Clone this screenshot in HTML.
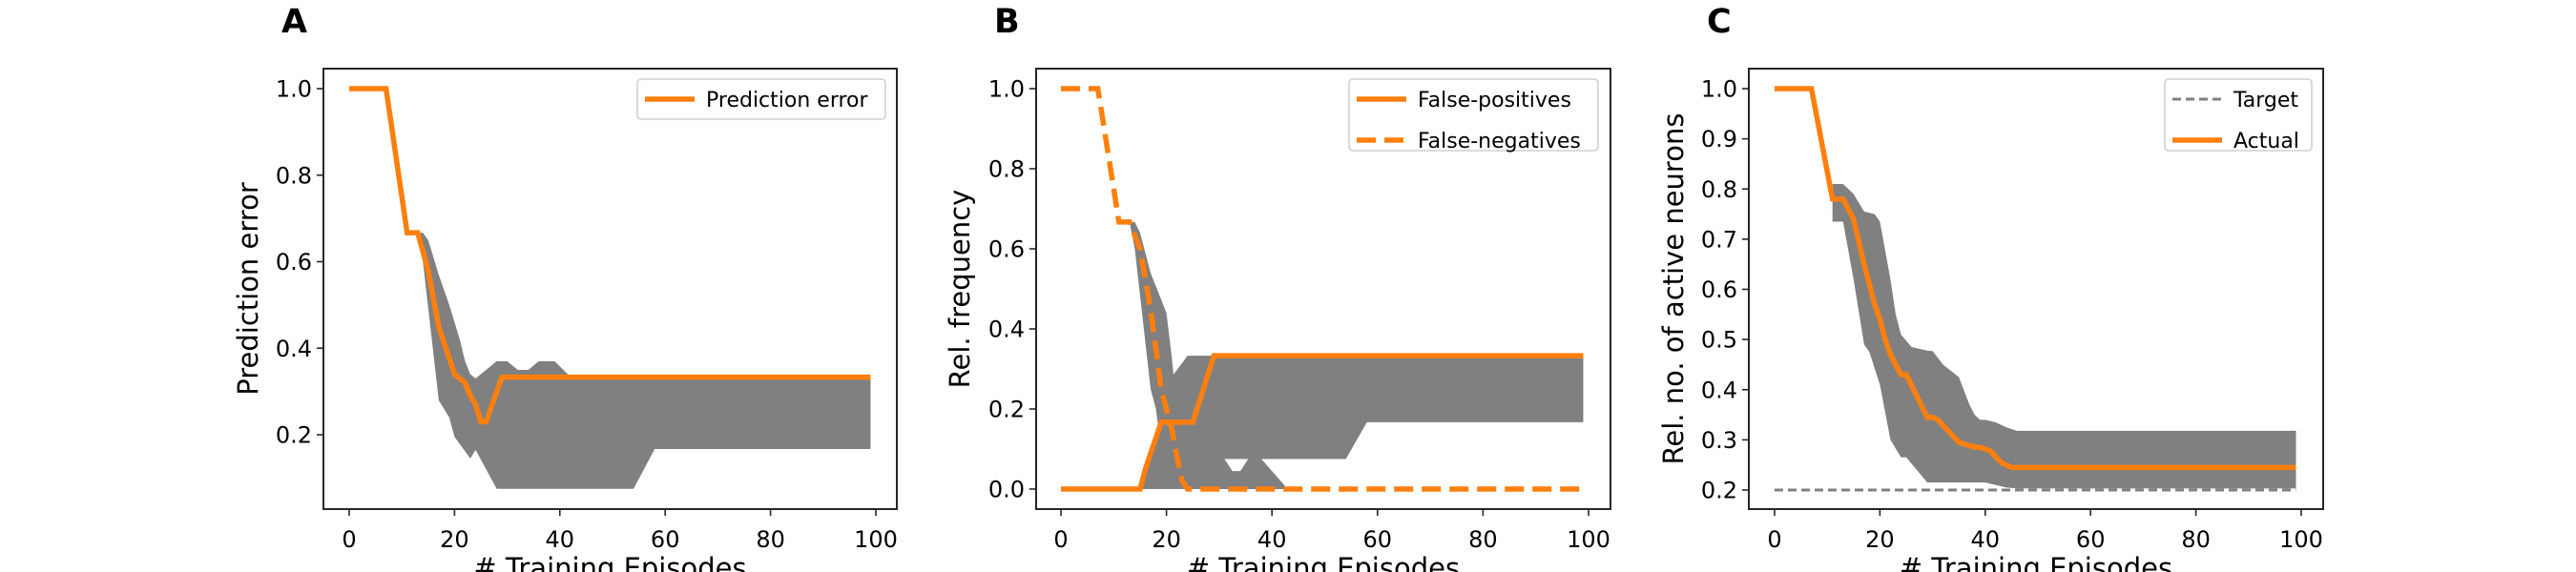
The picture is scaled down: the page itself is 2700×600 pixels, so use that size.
<!DOCTYPE html>
<html><head><meta charset="utf-8"><style>
body{margin:0;background:#fff;}
svg{display:block;font-family:"DejaVu Sans","Liberation Sans",sans-serif;}
</style></head><body>
<svg id="fig" width="2700" height="600" viewBox="0 0 2700 600" xmlns="http://www.w3.org/2000/svg"></svg>
<script>
// ---- Panel A data ----
const aLineX=[0,7,11,13,15,17,20,22,23,24,25,26,29,99];
const aLineY=[1,1,0.667,0.667,0.58,0.45,0.34,0.32,0.29,0.27,0.23,0.23,0.333,0.333];
const aUpX=[13,14,15,17,19,21,22,23,24,26,28,30,32,34,36,39,42,99];
const aUpY=[0.667,0.667,0.65,0.57,0.5,0.42,0.37,0.34,0.33,0.35,0.37,0.37,0.35,0.35,0.37,0.37,0.334,0.333];
const aLoX=[13,14,17,19,20,23,24,26,28,54,58,99];
const aLoY=[0.667,0.6,0.28,0.24,0.195,0.145,0.165,0.12,0.075,0.075,0.167,0.167];
const aYTicks=[0.2,0.4,0.6,0.8,1.0];
// ---- Panel B data ----
const bFnX=[0,7,11,13,15,17,19,21,22,23,24,99];
const bFnY=[1,1,0.667,0.667,0.6,0.45,0.25,0.15,0.08,0.02,0,0];
const bFpX=[0,15,16,19,25,29,99];
const bFpY=[0,0,0.05,0.167,0.167,0.333,0.333];
const bFpUpX=[15,16,20,21,24,99];
const bFpUpY=[0,0.03,0.2,0.28,0.333,0.333];
const bFpLoX=[15,20,22,24,54,58,99];
const bFpLoY=[0,0,0.04,0.075,0.075,0.167,0.167];
const bFnUpX=[13,14,15,17,20,21,22,24,26,31,32.5,34,35.5,38,43];
const bFnUpY=[0.667,0.667,0.64,0.54,0.44,0.33,0.2,0.1,0.075,0.075,0.045,0.045,0.075,0.075,0];
const bFnLoX=[13,14,17,18,19,20,43];
const bFnLoY=[0.667,0.6,0.25,0.2,0.1,0,0];
const bYTicks=[0,0.2,0.4,0.6,0.8,1.0];
// ---- Panel C data ----
const cLineX=[0,7,11,13,15,17,19,20,21,22,24,25,29,30,31,35,38,39,41,43,45,99];
const cLineY=[1,1,0.78,0.78,0.74,0.65,0.57,0.54,0.5,0.47,0.43,0.43,0.345,0.345,0.34,0.295,0.285,0.285,0.278,0.255,0.245,0.245];
const cUpX=[11,13,15,17,19,20,22,23,24,26,29,30,32,35,37,38,39,40,42,44,46,99];
const cUpY=[0.81,0.81,0.79,0.755,0.75,0.735,0.62,0.55,0.51,0.485,0.478,0.477,0.45,0.425,0.37,0.35,0.34,0.34,0.335,0.325,0.318,0.318];
const cLoX=[11,13,15,17,18,20,22,24,25,29,37,40,44,46,99];
const cLoY=[0.735,0.735,0.62,0.49,0.475,0.41,0.3,0.265,0.265,0.215,0.215,0.215,0.205,0.203,0.203];
const cTargetX=[0,99];
const cTargetY=[0.2,0.2];
const cYTicks=[0.2,0.3,0.4,0.5,0.6,0.7,0.8,0.9,1.0];
const xTicks=[0,20,40,60,80,100];

const NS="http://www.w3.org/2000/svg";
const svg=document.getElementById('fig');
function mk(tag,attrs,parent){const e=document.createElementNS(NS,tag);for(const k in attrs)e.setAttribute(k,attrs[k]);(parent||svg).appendChild(e);return e;}

function panel(p){
  const g=mk('g',{});
  
  
  const sx=v=>p.x0+(v)*(p.x100-p.x0)/100;
  const sy=v=>p.yA+(v-p.vA)*(p.yB-p.yA)/(p.vB-p.vA);
  p.bands.forEach(b=>{
    let d='';
    b.ux.forEach((x,i)=>{d+=(i?'L':'M')+sx(x)+','+sy(b.uy[i]);});
    for(let i=b.lx.length-1;i>=0;i--)d+='L'+sx(b.lx[i])+','+sy(b.ly[i]);
    const e=mk('path',{d:d+'Z',fill:'#808080',stroke:'none'},g);
    
    
  });
  p.lines.forEach(l=>{
    const pts=l.x.map((x,i)=>sx(x)+','+sy(l.y[i])).join(' ');
    const e=mk('polyline',{points:pts,fill:'none',stroke:l.color,'stroke-width':l.w,'stroke-dasharray':l.dash||'none','stroke-linejoin':'miter'},g);
    
    
  });
  const fr=mk('rect',{x:p.L,y:72,width:p.R-p.L,height:462,fill:'none',stroke:'#262626','stroke-width':2},g);
  
  
  xTicks.forEach(t=>{
    mk('line',{x1:sx(t),x2:sx(t),y1:534,y2:541,stroke:'#262626','stroke-width':1.6},g);
    const tx=mk('text',{x:sx(t),y:574,'font-size':24,'text-anchor':'middle',fill:'#000'},g);
    tx.textContent=String(t);
    
    
  });
  p.yTicks.forEach(t=>{
    mk('line',{x1:p.L-7,x2:p.L,y1:sy(t),y2:sy(t),stroke:'#262626','stroke-width':1.6},g);
    const tx=mk('text',{x:p.L-12,y:sy(t)+8.5,'font-size':24,'text-anchor':'end',fill:'#000'},g);
    tx.textContent=t.toFixed(1);
    
    
  });
  const xl=mk('text',{x:(p.L+p.R)/2,y:606,'font-size':29,'text-anchor':'middle',fill:'#000'},g);
  xl.textContent='# Training Episodes';
  
  
  const yl=mk('text',{x:0,y:0,'font-size':29,'text-anchor':'middle',fill:'#000',transform:`translate(${p.ylx},303) rotate(-90)`},g);
  yl.textContent=p.ylabel;
  
  
  const lt=mk('text',{x:p.L-44,y:34,'font-size':35,'font-weight':'bold',fill:'#000'},g);
  lt.textContent=p.letter;
  
  
  const lg=mk('g',{},g);
  
  
  mk('rect',{x:p.leg.x,y:83,width:p.leg.w,height:p.leg.h,rx:4,fill:'#fff',stroke:'#d0d0d0','stroke-width':1.6,'fill-opacity':0.8},lg);
  p.leg.items.forEach((it,i)=>{
    const yy=104+i*43;
    mk('line',{x1:p.leg.x+8,x2:p.leg.x+60,y1:yy,y2:yy,stroke:it.color,'stroke-width':it.w,'stroke-dasharray':it.dash||'none'},lg);
    const t=mk('text',{x:p.leg.x+72,y:yy+8,'font-size':22,fill:'#000'},lg);
    t.textContent=it.label;
    
    
  });
}
const OR='#ff7f0e';
panel({name:'panel-a',letter:'A',L:339,R:940,x0:366,x100:918,yA:93,vA:1.0,yB:456,vB:0.2,yTicks:aYTicks,ylabel:'Prediction error',ylx:270,
  bands:[{name:'error-band',ux:aUpX,uy:aUpY,lx:aLoX,ly:aLoY}],
  lines:[{name:'prediction-error-line',x:aLineX,y:aLineY,color:OR,w:5.5}],
  leg:{x:668,w:260,h:42,items:[{label:'Prediction error',color:OR,w:5.5}]}});
panel({name:'panel-b',letter:'B',L:1086,R:1688,x0:1112,x100:1665,yA:93,vA:1.0,yB:513,vB:0.0,yTicks:bYTicks,ylabel:'Rel. frequency',ylx:1016,
  bands:[{name:'false-positive-band',ux:bFpUpX,uy:bFpUpY,lx:bFpLoX,ly:bFpLoY},{name:'false-negative-band',ux:bFnUpX,uy:bFnUpY,lx:bFnLoX,ly:bFnLoY}],
  lines:[{name:'false-positives-line',x:bFpX,y:bFpY,color:OR,w:5.5},{name:'false-negatives-line',x:bFnX,y:bFnY,color:OR,w:5.5,dash:'20,9'}],
  leg:{x:1414,w:261,h:75,items:[{label:'False-positives',color:OR,w:5.5},{label:'False-negatives',color:OR,w:5.5,dash:'20,9'}]}});
panel({name:'panel-c',letter:'C',L:1833,R:2435,x0:1860,x100:2412,yA:93,vA:1.0,yB:514,vB:0.2,yTicks:cYTicks,ylabel:'Rel. no. of active neurons',ylx:1764,
  bands:[{name:'active-band',ux:cUpX,uy:cUpY,lx:cLoX,ly:cLoY}],
  lines:[{name:'target-line',x:cTargetX,y:cTargetY,color:'#808080',w:3,dash:'9,5'},{name:'actual-line',x:cLineX,y:cLineY,color:OR,w:5.5}],
  leg:{x:2269,w:154,h:75,items:[{label:'Target',color:'#808080',w:3,dash:'9,5'},{label:'Actual',color:OR,w:5.5}]}});
</script>
</body></html>
